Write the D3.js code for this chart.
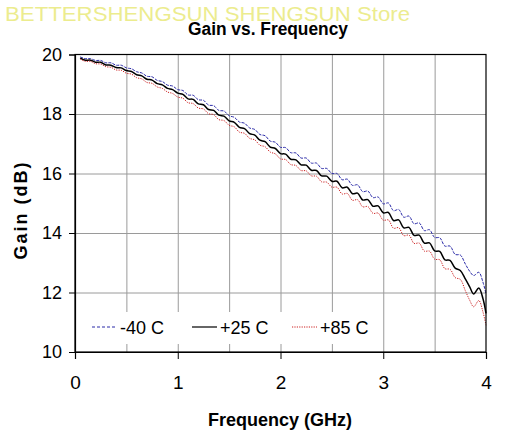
<!DOCTYPE html>
<html>
<head>
<meta charset="utf-8">
<script src="https://cdn.jsdelivr.net/npm/d3@7"></script>
<style>
  html, body { margin: 0; padding: 0; background: #fff; }
  svg { display: block; font-family: 'Liberation Sans', Arial, sans-serif; }
</style>
</head>
<body>
<div id="chart"></div>
<script>
(function () {
  'use strict';

  // Frequency points (GHz)
  const FREQ = [0.05,0.10,0.15,0.20,0.25,0.30,0.35,0.40,0.45,0.50,
    0.55,0.60,0.65,0.70,0.75,0.80,0.85,0.90,0.95,1.00,
    1.05,1.10,1.15,1.20,1.25,1.30,1.35,1.40,1.45,1.50,
    1.55,1.60,1.65,1.70,1.75,1.80,1.85,1.90,1.95,2.00,
    2.05,2.10,2.15,2.20,2.25,2.30,2.35,2.40,2.45,2.50,
    2.55,2.60,2.65,2.70,2.75,2.80,2.85,2.90,2.95,3.00,
    3.05,3.10,3.15,3.20,3.25,3.30,3.35,3.40,3.45,3.50,
    3.55,3.60,3.65,3.70,3.75,3.80,3.84,3.88,3.93,3.97,4.00];

  // Gain (dB)
  const GAIN_M40 = [19.92,19.86,19.86,19.80,19.80,19.72,19.72,19.64,19.64,19.55,
    19.52,19.42,19.38,19.27,19.25,19.13,19.09,18.97,18.94,18.82,
    18.79,18.64,18.63,18.48,18.46,18.30,18.28,18.12,18.10,17.94,
    17.89,17.73,17.69,17.53,17.48,17.31,17.27,17.09,17.05,16.88,
    16.87,16.70,16.69,16.52,16.52,16.35,16.35,16.17,16.17,16.00,
    16.00,15.79,15.81,15.60,15.62,15.39,15.41,15.19,15.21,14.98,
    15.01,14.75,14.79,14.53,14.57,14.31,14.34,14.08,14.11,13.85,
    13.84,13.56,13.56,13.28,13.26,12.95,12.72,12.57,12.68,12.35,11.95];

  const GAIN_P25 = [19.88,19.81,19.81,19.74,19.74,19.65,19.64,19.56,19.55,19.46,
    19.43,19.32,19.28,19.17,19.14,19.02,18.98,18.86,18.82,18.70,
    18.66,18.51,18.49,18.34,18.31,18.15,18.12,17.96,17.93,17.77,
    17.72,17.55,17.51,17.34,17.29,17.12,17.07,16.89,16.84,16.67,
    16.65,16.48,16.46,16.29,16.28,16.11,16.10,15.92,15.91,15.74,
    15.74,15.52,15.54,15.32,15.34,15.11,15.12,14.90,14.91,14.68,
    14.69,14.42,14.44,14.17,14.19,13.92,13.93,13.66,13.67,13.40,
    13.38,13.10,13.08,12.82,12.74,12.45,12.20,11.95,12.15,11.80,11.30];

  const GAIN_P85 = [19.85,19.77,19.77,19.69,19.68,19.59,19.57,19.48,19.47,19.37,
    19.34,19.22,19.18,19.06,19.03,18.91,18.86,18.74,18.69,18.57,
    18.53,18.38,18.35,18.20,18.17,18.01,17.98,17.81,17.78,17.62,
    17.57,17.39,17.35,17.18,17.13,16.95,16.90,16.72,16.66,16.49,
    16.47,16.30,16.27,16.10,16.09,15.92,15.91,15.72,15.71,15.54,
    15.54,15.31,15.33,15.10,15.12,14.88,14.89,14.66,14.67,14.43,
    14.44,14.16,14.18,13.91,13.93,13.65,13.66,13.39,13.39,13.12,
    13.10,12.80,12.78,12.50,12.44,12.05,11.75,11.52,11.73,11.35,10.90];

  const SERIES_LABELS = ['-40 C', '+25 C', '+85 C'];
  const X_TICKS = [0, 1, 2, 3, 4];
  const X_GRID = [0.5, 1, 1.5, 2, 2.5, 3, 3.5];
  const Y_TICKS = [10, 12, 14, 16, 18, 20];
  const Y_GRID = [12, 14, 16, 18];

  const W = 505, H = 436;
  const margin = { top: 54.5, right: 19, bottom: 84, left: 75 };
  const pw = W - margin.left - margin.right;
  const ph = H - margin.top - margin.bottom;

  const STYLES = [
    { color: '#2a2aa8', width: 1, dash: '3,1.2', legendDash: '3,2' },
    { color: '#000000', width: 1.5, dash: null, legendDash: null },
    { color: '#cc2020', width: 1, dash: '1.2,1.2', legendDash: '1.2,1.2' },
  ];

  const svg = d3.select('#chart').append('svg')
    .attr('width', W).attr('height', H);

  // Watermark
  svg.append('text')
    .attr('x', 5).attr('y', 21)
    .attr('fill', '#ecec8e')
    .attr('font-size', 20.5)
    .attr('textLength', 405).attr('lengthAdjust', 'spacingAndGlyphs')
    .text('BETTERSHENGSUN SHENGSUN Store');

  // Title
  svg.append('text')
    .attr('x', 268).attr('y', 35)
    .attr('text-anchor', 'middle')
    .attr('font-size', 18).attr('font-weight', 'bold')
    .attr('textLength', 160).attr('lengthAdjust', 'spacingAndGlyphs')
    .text('Gain vs. Frequency');

  const g = svg.append('g').attr('transform', `translate(${margin.left},${margin.top})`);

  const x = d3.scaleLinear().domain([0, 4]).range([0, pw]);
  const y = d3.scaleLinear().domain([10, 20]).range([ph, 0]);

  // Grid
  g.append('g').attr('class', 'grid')
    .attr('transform', `translate(0,${ph})`)
    .call(d3.axisBottom(x).tickValues(X_GRID).tickSize(-ph).tickFormat(''))
    .call(a => a.select('.domain').remove())
    .call(a => a.selectAll('line').attr('stroke', '#9a9a9a'));
  g.append('g').attr('class', 'grid')
    .call(d3.axisLeft(y).tickValues(Y_GRID).tickSize(-pw).tickFormat(''))
    .call(a => a.select('.domain').remove())
    .call(a => a.selectAll('line').attr('stroke', '#9a9a9a'));

  // Legend box (white, hides grid)
  const legend = g.append('g').attr('transform', `translate(0,${ph})`);
  legend.append('rect')
    .attr('x', 13).attr('y', -40).attr('width', 290).attr('height', 32)
    .attr('fill', '#fff');

  // Series
  const seriesData = [GAIN_M40, GAIN_P25, GAIN_P85];
  const line = d3.line()
    .x(d => x(d[0])).y(d => y(d[1]))
    .curve(d3.curveCatmullRom.alpha(0.5));

  seriesData.forEach((vals, i) => {
    const pts = FREQ.map((f, k) => [f, vals[k]]);
    g.append('path')
      .datum(pts)
      .attr('fill', 'none')
      .attr('stroke', STYLES[i].color)
      .attr('stroke-width', STYLES[i].width)
      .attr('stroke-dasharray', STYLES[i].dash)
      .attr('d', line);
  });

  // Legend entries
  SERIES_LABELS.forEach((label, i) => {
    const lx = 17 + i * 100;
    legend.append('line')
      .attr('x1', lx).attr('x2', lx + 25)
      .attr('y1', -25).attr('y2', -25)
      .attr('stroke', STYLES[i].color)
      .attr('stroke-width', i === 1 ? 1.2 : 1)
      .attr('stroke-dasharray', STYLES[i].legendDash);
    legend.append('text')
      .attr('x', lx + 28).attr('y', -18)
      .attr('font-size', 18)
      .text(label);
  });

  // Frame
  g.append('rect')
    .attr('x', 0).attr('y', 0).attr('width', pw).attr('height', ph)
    .attr('fill', 'none').attr('stroke', '#000').attr('stroke-width', 1.2);

  // Axes
  g.append('g')
    .attr('transform', `translate(0,${ph})`)
    .call(d3.axisBottom(x).tickValues(X_TICKS).tickSize(7).tickPadding(17).tickFormat(d3.format('d')))
    .call(a => a.select('.domain').attr('stroke-width', 1.2))
    .call(a => a.selectAll('text').attr('font-size', 19).attr('fill', '#000')
      .attr('font-family', "'Liberation Sans', Arial, sans-serif"));

  g.append('g')
    .call(d3.axisLeft(y).tickValues(Y_TICKS).tickSize(6).tickPadding(7).tickFormat(d3.format('d')))
    .call(a => a.select('.domain').attr('stroke-width', 1.2))
    .call(a => a.selectAll('text').attr('font-size', 18).attr('fill', '#000')
      .attr('font-family', "'Liberation Sans', Arial, sans-serif"));

  // Axis titles
  svg.append('text')
    .attr('x', 280).attr('y', 426)
    .attr('text-anchor', 'middle')
    .attr('font-size', 18).attr('font-weight', 'bold')
    .text('Frequency (GHz)');

  svg.append('text')
    .attr('transform', 'translate(27,210) rotate(-90)')
    .attr('text-anchor', 'middle')
    .attr('font-size', 18).attr('font-weight', 'bold')
    .attr('letter-spacing', 2)
    .text('Gain (dB)');
})();
</script>
</body>
</html>
